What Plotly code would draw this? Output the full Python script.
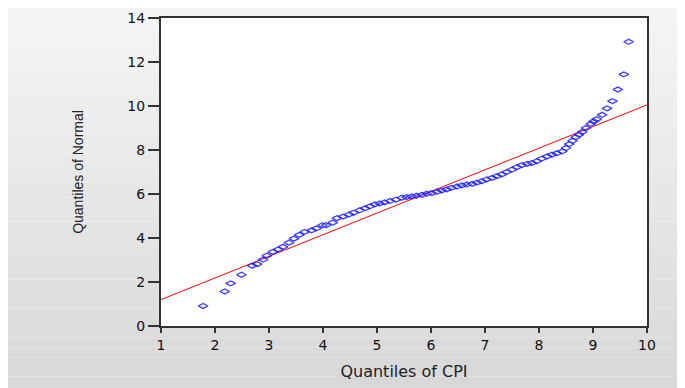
import plotly.graph_objects as go

# Q-Q points (Quantiles of CPI vs Quantiles of Normal)
cpi_q = [1.78, 2.18, 2.29, 2.49, 2.69, 2.78, 2.89, 2.96, 3.07, 3.17,
         3.26, 3.37, 3.46, 3.56, 3.66, 3.79, 3.88, 3.99, 4.06, 4.18,
         4.26, 4.37, 4.48, 4.57, 4.68, 4.78, 4.87, 4.96, 5.05, 5.14,
         5.24, 5.35, 5.46, 5.55, 5.64, 5.73, 5.83, 5.92, 6.01, 6.11,
         6.20, 6.29, 6.38, 6.48, 6.57, 6.66, 6.76, 6.85, 6.94, 7.03,
         7.13, 7.22, 7.31, 7.40, 7.50, 7.59, 7.68, 7.78, 7.87, 7.96,
         8.05, 8.15, 8.24, 8.33, 8.43, 8.50, 8.56, 8.62, 8.68, 8.74,
         8.80, 8.87, 8.96, 9.01, 9.07, 9.17, 9.26, 9.36, 9.46, 9.57, 9.66]
normal_q = [0.91, 1.57, 1.94, 2.33, 2.74, 2.81, 3.02, 3.20, 3.37, 3.48,
            3.60, 3.79, 3.97, 4.14, 4.28, 4.35, 4.44, 4.58, 4.58, 4.70,
            4.90, 4.97, 5.07, 5.15, 5.26, 5.35, 5.44, 5.53, 5.57, 5.62,
            5.68, 5.74, 5.83, 5.86, 5.89, 5.92, 5.96, 6.01, 6.04, 6.10,
            6.16, 6.21, 6.28, 6.34, 6.39, 6.43, 6.46, 6.52, 6.58, 6.66,
            6.73, 6.81, 6.89, 7.00, 7.11, 7.22, 7.31, 7.37, 7.41, 7.49,
            7.61, 7.71, 7.79, 7.85, 7.94, 8.09, 8.27, 8.42, 8.58, 8.70,
            8.82, 9.00, 9.19, 9.30, 9.40, 9.60, 9.89, 10.22, 10.75, 11.44, 12.92]

# Reference line
line_x = [1, 10]
line_y = [1.2, 10.05]

x_ticks = [1, 2, 3, 4, 5, 6, 7, 8, 9, 10]
y_ticks = [0, 2, 4, 6, 8, 10, 12, 14]

W, H = 685, 388
ML, MR, MT, MB = 153, 46, 10, 70
PW, PH = W - ML - MR, H - MT - MB


def px_to_paper_x(px):
    return (px - ML) / PW


def py_to_paper_y(py):
    return (MT + PH - py) / PH


# gradient grey panel behind the chart
shapes = []
n = 40
top, bottom = 0, H
for i in range(n):
    y0 = top + (bottom - top) * i / n
    y1 = top + (bottom - top) * (i + 1) / n
    t = i / (n - 1)
    c = int(round(245 - t * (245 - 215)))
    shapes.append(dict(type="rect", xref="paper", yref="paper", layer="below",
                       x0=px_to_paper_x(0), x1=px_to_paper_x(672),
                       y0=py_to_paper_y(y1), y1=py_to_paper_y(y0),
                       fillcolor=f"rgb({c},{c},{c})", line=dict(width=0)))
# white plot area
shapes.append(dict(type="rect", xref="paper", yref="paper", layer="below",
                   x0=0, x1=1, y0=0, y1=1, fillcolor="white", line=dict(width=0)))

fig = go.Figure()
fig.add_trace(go.Scatter(x=line_x, y=line_y, mode="lines",
                         line=dict(color="#ff0000", width=1), showlegend=False,
                         hoverinfo="skip"))
fig.add_trace(go.Scatter(x=cpi_q, y=normal_q, mode="markers",
                         marker=dict(symbol="diamond-wide-open", size=7,
                                     color="rgba(30,30,255,0.85)",
                                     line=dict(width=1.3)),
                         showlegend=False))

tick_font = "DejaVu Sans, Verdana, sans-serif"
title_font = "Liberation Sans, Arial, sans-serif"
fig.update_layout(
    width=W, height=H,
    margin=dict(l=ML, r=MR, t=MT, b=MB, pad=0, autoexpand=False),
    paper_bgcolor="white",
    plot_bgcolor="rgba(0,0,0,0)",
    shapes=shapes,
    font=dict(family=title_font, color="#111111"),
    xaxis=dict(range=[1, 10], tickvals=x_ticks, ticks="outside", ticklen=5,
               tickcolor="#333333", tickwidth=1.5, showline=True, linecolor="#333333",
               linewidth=2, mirror=True, showgrid=False, zeroline=False,
               automargin=False,
               tickfont=dict(size=14, color="#111111", family=tick_font),
               title=dict(text="Quantiles of CPI",
                          font=dict(size=16, color="#222222", family=tick_font),
                          standoff=14)),
    yaxis=dict(range=[0, 14], tickvals=y_ticks, ticks="outside", ticklen=11,
               tickcolor="#333333", tickwidth=1.5, showline=True, linecolor="#333333",
               linewidth=2, mirror=True, showgrid=False, zeroline=False,
               automargin=False,
               tickfont=dict(size=14, color="#111111", family=tick_font),
               title=dict(text="Quantiles of Normal",
                          font=dict(size=14, color="#222222", family=title_font),
                          standoff=40)),
)

fig.write_html("out.html")
